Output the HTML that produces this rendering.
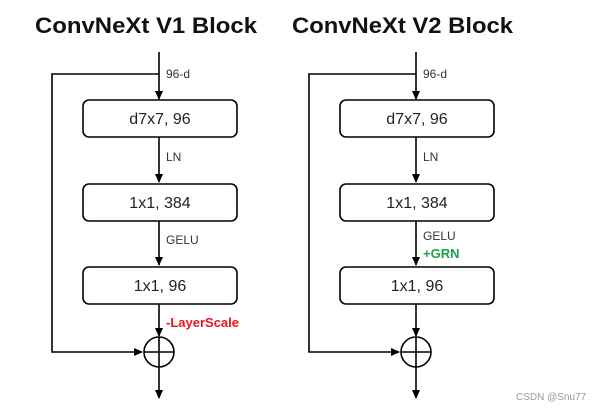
<!DOCTYPE html>
<html><head><style>
body{margin:0;background:#fff;}
svg{display:block}
</style></head><body>
<svg width="602" height="410" xmlns="http://www.w3.org/2000/svg" font-family="Liberation Sans, sans-serif">
<defs>
<marker id="a" markerWidth="10" markerHeight="10" refX="8" refY="5" orient="auto" markerUnits="userSpaceOnUse">
<path d="M0,1 L9,5 L0,9 Z" fill="#000"/></marker>
</defs>
<text x="35" y="33" font-size="22" font-weight="bold" fill="#111" textLength="222" lengthAdjust="spacingAndGlyphs">ConvNeXt V1 Block</text>
<text x="292" y="33" font-size="22" font-weight="bold" fill="#111" textLength="221" lengthAdjust="spacingAndGlyphs">ConvNeXt V2 Block</text>
<g id="L">
<g stroke="#000" stroke-width="1.6" fill="none">
<line x1="159" y1="52" x2="159" y2="99" marker-end="url(#a)"/>
<polyline points="159,74 52,74 52,352 142,352" marker-end="url(#a)"/>
<rect x="83" y="100" width="154" height="37" rx="6"/>
<line x1="159" y1="137" x2="159" y2="182" marker-end="url(#a)"/>
<rect x="83" y="184" width="154" height="37" rx="6"/>
<line x1="159" y1="221" x2="159" y2="265" marker-end="url(#a)"/>
<rect x="83" y="267" width="154" height="37" rx="6"/>
<line x1="159" y1="304" x2="159" y2="336" marker-end="url(#a)"/>
<circle cx="159" cy="352" r="15"/>
<line x1="144" y1="352" x2="174" y2="352"/>
<line x1="159" y1="337" x2="159" y2="398" marker-end="url(#a)"/>
</g>
<g font-size="16" fill="#222" text-anchor="middle">
<text x="160" y="124">d7x7, 96</text>
<text x="160" y="208">1x1, 384</text>
<text x="160" y="291">1x1, 96</text>
</g>
<g font-size="12" fill="#333">
<text x="166" y="78">96-d</text>
<text x="166" y="161">LN</text>
<text x="166" y="244">GELU</text>
</g>
</g>
<text x="166" y="327" font-size="13" font-weight="bold" fill="#e8141b">-LayerScale</text>
<g transform="translate(257,0)">
<g stroke="#000" stroke-width="1.6" fill="none">
<line x1="159" y1="52" x2="159" y2="99" marker-end="url(#a)"/>
<polyline points="159,74 52,74 52,352 142,352" marker-end="url(#a)"/>
<rect x="83" y="100" width="154" height="37" rx="6"/>
<line x1="159" y1="137" x2="159" y2="182" marker-end="url(#a)"/>
<rect x="83" y="184" width="154" height="37" rx="6"/>
<line x1="159" y1="221" x2="159" y2="265" marker-end="url(#a)"/>
<rect x="83" y="267" width="154" height="37" rx="6"/>
<line x1="159" y1="304" x2="159" y2="336" marker-end="url(#a)"/>
<circle cx="159" cy="352" r="15"/>
<line x1="144" y1="352" x2="174" y2="352"/>
<line x1="159" y1="337" x2="159" y2="398" marker-end="url(#a)"/>
</g>
<g font-size="16" fill="#222" text-anchor="middle">
<text x="160" y="124">d7x7, 96</text>
<text x="160" y="208">1x1, 384</text>
<text x="160" y="291">1x1, 96</text>
</g>
<g font-size="12" fill="#333">
<text x="166" y="78">96-d</text>
<text x="166" y="161">LN</text>
<text x="166" y="240">GELU</text>
</g>
<text x="166" y="258" font-size="13" font-weight="bold" fill="#1aa34a">+GRN</text>
</g>
<text x="516" y="400" font-size="10" fill="#999">CSDN @Snu77</text>
</svg>
</body></html>
